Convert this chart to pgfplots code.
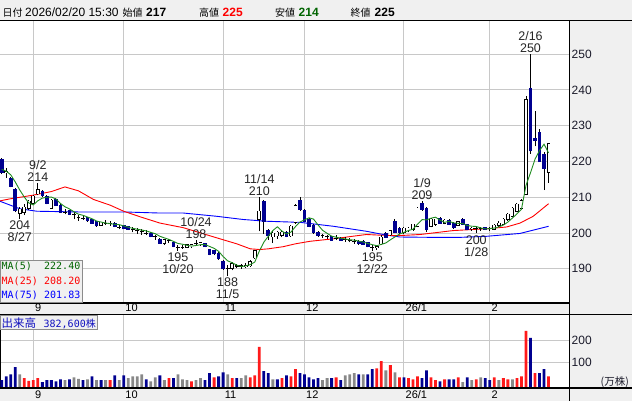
\documentclass[border=0pt]{standalone}
\usepackage{pgfplots}
\pgfplotsset{compat=1.18}
\usepackage{pgfplotstable}
\usepackage{fontspec}
\setmainfont{Liberation Sans}
\newfontfamily\jp{Noto Sans CJK JP}
\newfontfamily\mono{DejaVu Sans Mono}
\definecolor{cnavy}{HTML}{000090}
\definecolor{vred}{HTML}{FF1A1A}
\definecolor{vgray}{HTML}{888888}
\definecolor{ma5}{HTML}{1E8C1E}
\definecolor{ma5t}{HTML}{006400}
\definecolor{panel}{HTML}{F0F0F0}
\definecolor{gridc}{HTML}{C8C8C8}
\definecolor{tickc}{HTML}{1A1A2A}
\definecolor{volt}{HTML}{1010C0}
\newcommand\tickfont{\fontsize{12bp}{12bp}\selectfont}
\newcommand\datefont{\fontsize{11bp}{11bp}\selectfont}
\newcommand\annfont{\fontsize{12.5bp}{12bp}\selectfont}
\newcommand\legfont{\mono\fontsize{10bp}{10bp}\selectfont}
\newcommand\hdfont{\fontsize{12bp}{12bp}\selectfont}
\newcommand\hdjp{\jp\fontsize{10bp}{12bp}\selectfont}
\tikzset{annot/.style={font=\annfont, align=center, inner sep=0pt, text=black!85}}

% i open high low close
\pgfplotstableread{
i o h l c
-7 220.5 221.0 216.5 217.0
-6 216.8 218.2 215.5 217.2
-5 215.2 215.6 212.8 213.1
-4 212.2 212.5 205.8 206.3
-3 205.6 207.2 204.0 206.6
-2 205.8 208.0 205.0 207.2
-1 207.0 209.3 206.5 208.9
0 208.4 210.6 208.0 210.3
1 211.0 214.0 210.5 212.1
2 211.6 212.0 210.0 210.4
3 210.2 210.5 208.0 208.3
4 207.0 209.5 206.8 209.2
5 209.4 209.8 207.5 207.7
6 207.6 208.0 205.6 205.8
7 205.8 206.8 205.2 205.8
8 206.2 206.5 205.0 205.2
9 205.2 206.0 203.8 205.2
10 204.4 205.0 203.5 204.4
11 204.2 205.0 203.6 204.2
12 204.4 204.6 203.2 203.4
13 203.8 204.0 202.6 202.8
14 203.3 203.5 201.8 202.0
15 202.2 203.2 202.0 203.0
16 202.8 203.6 202.2 202.8
17 202.6 203.4 202.0 202.6
18 202.6 203.0 201.6 201.8
19 201.6 202.2 201.0 201.6
20 202.0 202.2 201.0 201.2
21 201.8 202.0 200.8 201.0
22 201.0 201.6 200.2 201.0
23 200.6 201.4 199.8 200.6
24 200.4 201.0 199.6 200.4
25 200.0 200.8 199.4 200.0
26 200.0 200.4 198.8 199.0
27 199.0 199.6 198.2 199.0
28 198.2 198.6 197.0 197.1
29 197.2 198.4 196.8 198.2
30 197.9 198.4 197.2 197.9
31 197.3 197.6 196.0 196.2
32 196.1 196.6 195.0 196.1
33 196.0 196.6 195.6 196.0
34 196.0 197.0 195.8 196.7
35 196.2 197.0 195.8 196.8
36 197.0 198.0 196.4 197.0
37 196.8 197.6 196.4 197.3
38 197.0 197.2 196.0 196.2
39 195.4 195.6 193.8 194.0
40 195.2 195.4 193.8 194.2
41 194.4 194.8 192.6 192.8
42 192.1 192.4 189.8 190.0
43 190.2 191.0 188.0 190.2
44 190.2 191.8 189.6 191.4
45 190.8 191.4 190.2 190.8
46 190.8 191.4 190.0 190.8
47 190.8 191.6 190.2 190.9
48 190.9 192.4 190.6 192.0
49 193.1 195.4 192.8 195.0
50 203.8 210.0 200.5 206.1
51 208.9 209.2 199.8 203.3
52 200.6 201.2 198.0 199.2
53 199.0 200.6 197.2 200.0
54 199.2 200.5 198.4 200.2
55 199.4 200.6 198.8 200.2
56 200.3 200.6 198.8 199.1
57 199.2 202.2 199.0 201.9
58 203.0 208.0 202.6 207.6
59 209.0 210.0 206.2 206.6
60 206.3 206.8 203.0 203.3
61 203.8 204.2 201.6 201.9
62 202.2 202.6 199.8 200.1
63 200.2 200.6 199.0 199.4
64 199.2 199.8 198.6 199.2
65 199.0 199.6 198.4 199.0
66 199.0 199.2 198.0 198.0
67 198.6 199.4 198.0 198.6
68 198.6 199.0 197.8 198.0
69 198.2 198.8 197.6 198.2
70 197.8 198.6 197.4 197.8
71 197.6 198.4 197.0 197.6
72 197.7 198.0 196.8 197.1
73 197.7 198.0 196.6 196.8
74 197.3 197.6 196.0 196.2
75 196.1 196.6 195.0 196.1
76 196.0 196.8 195.4 196.2
77 197.0 199.4 196.8 198.9
78 199.8 200.2 198.6 198.8
79 199.6 200.8 199.2 200.6
80 203.3 203.8 200.0 200.1
81 201.4 201.8 199.8 200.1
82 200.2 201.8 199.8 201.4
83 200.6 201.8 200.2 201.4
84 201.0 202.6 200.6 202.4
85 201.9 207.4 201.6 207.0
86 208.4 209.0 206.2 206.6
87 207.0 207.4 200.4 201.0
88 201.9 204.2 201.6 203.8
89 202.5 204.0 202.0 203.8
90 204.2 204.6 202.6 202.8
91 202.8 204.0 202.4 203.6
92 203.4 203.8 202.2 202.4
93 202.8 203.0 201.2 201.6
94 202.2 203.4 202.0 203.2
95 203.8 204.2 202.2 202.4
96 202.4 202.6 200.8 201.0
97 201.2 201.8 200.6 201.4
98 201.2 201.6 200.0 201.2
99 201.2 201.8 200.6 201.2
100 201.6 201.8 200.8 201.0
101 201.2 201.8 200.6 201.4
102 201.0 202.6 200.8 202.2
103 202.2 203.4 201.8 202.8
104 202.4 204.2 202.2 203.8
105 203.8 205.6 203.4 205.2
106 204.7 207.4 204.4 207.0
107 206.1 208.4 205.8 208.0
108 207.0 209.4 206.6 209.1
109 210.9 238.2 210.6 237.2
110 240.3 250.0 222.2 223.0
111 226.5 234.0 224.2 226.0
112 228.2 229.1 220.0 220.0
113 221.9 222.6 212.0 218.0
114 217.0 225.0 214.0 225.0
}\ohlc

\pgfplotstableread{
i m
-7 217.8
-6 217.3
-5 216.3
-4 214.3
-3 212.04
-2 210.08
-1 208.42
0 207.86
1 209.02
2 209.78
3 210.0
4 210.06
5 209.54
6 208.28
7 207.36
8 206.74
9 205.94
10 205.28
11 204.96
12 204.48
13 204.0
14 203.36
15 203.08
16 202.8
17 202.64
18 202.44
19 202.36
20 202.0
21 201.64
22 201.32
23 201.08
24 200.84
25 200.6
26 200.2
27 199.8
28 199.1
29 198.66
30 198.24
31 197.68
32 197.1
33 196.88
34 196.58
35 196.36
36 196.52
37 196.76
38 196.8
39 196.26
40 195.74
41 194.9
42 193.44
43 192.24
44 191.72
45 191.04
46 190.64
47 190.82
48 191.18
49 191.9
50 194.96
51 197.46
52 199.12
53 200.72
54 201.76
55 200.58
56 199.74
57 200.28
58 201.8
59 203.08
60 203.7
61 204.26
62 203.9
63 202.26
64 200.78
65 199.92
66 199.14
67 198.84
68 198.56
69 198.36
70 198.12
71 198.04
72 197.74
73 197.5
74 197.1
75 196.76
76 196.48
77 196.84
78 197.24
79 198.12
80 198.92
81 199.7
82 200.2
83 200.72
84 201.08
85 202.46
86 203.76
87 203.68
88 204.16
89 204.44
90 203.6
91 203.0
92 203.28
93 202.84
94 202.72
95 202.64
96 202.12
97 201.92
98 201.84
99 201.44
100 201.16
101 201.24
102 201.4
103 201.72
104 202.24
105 203.08
106 204.2
107 205.36
108 206.62
109 213.3
110 216.86
111 220.66
112 223.06
113 224.84
114 222.4
}\mafive

\pgfplotstableread{
i m
-7.4 209.0
-5 209.6
0 210.6
4 211.6
7 212.9
10 211.8
13.3 209.4
17 207.8
20 206.1
24 204.4
28 202.8
33.2 201.5
40.5 198.7
45 197.0
48 195.6
50.1 195.4
52 195.6
55.3 196.2
58 197.0
61.2 197.7
66.4 198.4
70 199.0
73.7 199.6
77 199.4
81 199.3
85.6 199.6
92.9 200.7
100.3 201.2
104.7 201.7
107.7 202.8
110.6 204.7
114 208.2
}\matwentyfive

\pgfplotstableread{
i m
-7.4 208.9
-3 206.8
0.8 206.1
10 205.9
20 205.9
28 205.6
33.2 205.6
40.5 204.7
46.4 203.8
51.6 203.3
59 203.0
66.4 201.9
73.7 200.5
77.4 199.6
81.1 198.9
88.5 198.8
94.4 198.8
100.3 199.1
107.7 199.9
114 201.9
}\maseventyfive

% volume (10,000 shares); colour code: 0 gray, 1 red, 2 navy
\pgfplotstableread{
i v c
-7 20 2
-6 38 2
-5 47 2
-4 79 2
-3 47 0
-2 29 1
-1 17 1
0 20 1
1 29 1
2 11 2
3 20 2
4 20 2
5 15 2
6 24 2
7 20 0
8 24 2
9 33 0
10 26 0
11 20 2
12 24 0
13 38 2
14 20 0
15 20 2
16 20 0
17 20 1
18 42 2
19 20 0
20 42 2
21 29 0
22 38 0
23 38 0
24 47 0
25 24 2
26 15 0
27 33 0
28 42 2
29 20 0
30 29 1
31 29 2
32 47 0
33 24 0
34 20 0
35 15 1
36 20 0
37 29 0
38 20 2
39 52 2
40 33 1
41 38 2
42 56 2
43 47 0
44 29 1
45 29 2
46 29 0
47 42 0
48 33 1
49 42 1
50 170 1
51 61 2
52 52 2
53 24 0
54 24 2
55 29 1
56 42 2
57 38 1
58 70 1
59 52 2
60 47 2
61 33 2
62 24 2
63 29 2
64 20 0
65 29 0
66 29 2
67 33 1
68 20 2
69 42 0
70 47 0
71 52 0
72 47 2
73 47 0
74 47 2
75 70 2
76 74 1
77 106 1
78 65 0
79 88 1
80 56 0
81 33 1
82 33 2
83 29 1
84 24 1
85 38 1
86 29 2
87 65 2
88 33 1
89 20 1
90 15 2
91 24 1
92 24 2
93 24 2
94 33 1
95 11 0
96 33 2
97 20 0
98 24 1
99 33 0
100 29 2
101 20 2
102 33 1
103 20 0
104 29 1
105 24 1
106 24 0
107 29 1
108 38 1
109 243 1
110 211 2
111 52 1
112 52 2
113 70 2
114 38 1
}\vol

\begin{document}
\begin{tikzpicture}
\useasboundingbox (0,0) rectangle (632bp,-401bp);
\fill[white] (0,0) rectangle (632bp,-401bp);
\fill[panel] (0,0) rectangle (632bp,-20.5bp);
\fill[panel] (569bp,-20.5bp) rectangle (632bp,-401bp);
\fill[panel] (0,-302.5bp) rectangle (632bp,-314.5bp);
\fill[panel] (0,-388bp) rectangle (632bp,-401bp);

\begin{axis}[
  at={(0bp,-20.5bp)}, anchor=north west,
  width=569bp, height=282bp, scale only axis,
  xmin=-7.37, xmax=118.52, ymin=180.6, ymax=259.4,
  axis line style={draw=black, line width=1bp},
  major tick length=0pt,
  /pgf/number format/assume math mode=true,
  xtick={0,20,42,60,82,101},
  xticklabels={9,10,11,12,26/1,2},
  xticklabel style={anchor=base west, inner sep=0pt, xshift=1.5bp, yshift=-9bp, font=\datefont, text=black},
  ytick={190,200,210,220,230,240,250},
  yticklabel pos=right,
  yticklabel style={anchor=west, inner sep=0pt, xshift=2.5bp, font=\tickfont, text=tickc},
  grid=major, major grid style={draw=gridc, line width=1bp},
]
% MA lines
\addplot[blue, line width=0.9bp, mark=none] table[x=i,y=m] {\maseventyfive};
\addplot[red, line width=0.9bp, mark=none] table[x=i,y=m] {\matwentyfive};
% wicks (low to high)
\addplot[draw=none, mark=none, error bars/.cd, y dir=plus, y explicit, error mark=none,
  error bar style={draw=black, line width=0.9bp}]
  table[x=i, y=l, y error expr=\thisrow{h}-\thisrow{l}] {\ohlc};
% white (rising) bodies: black outline, white inside
\addplot[draw=none, mark=none, error bars/.cd, y dir=plus, y explicit, error mark=none,
  error bar style={draw=black, line width=3.7bp}]
  table[x=i, y expr=\thisrow{o}-0.14,
        y error expr={\thisrow{c}>=\thisrow{o} ? \thisrow{c}-\thisrow{o}+0.28 : 0}] {\ohlc};
\addplot[draw=none, mark=none, error bars/.cd, y dir=plus, y explicit, error mark=none,
  error bar style={draw=white, line width=2.1bp}]
  table[x=i, y=o,
        y error expr={\thisrow{c}>\thisrow{o} ? \thisrow{c}-\thisrow{o} : 0}] {\ohlc};
% navy (falling) bodies
\addplot[draw=none, mark=none, error bars/.cd, y dir=plus, y explicit, error mark=none,
  error bar style={draw=cnavy, line width=3.7bp}]
  table[x=i, y expr=\thisrow{c}-0.14,
        y error expr={\thisrow{o}>\thisrow{c} ? \thisrow{o}-\thisrow{c}+0.28 : 0}] {\ohlc};
\addplot[ma5, line width=0.9bp, mark=none] table[x=i,y=m] {\mafive};
% annotations
\node[annot, anchor=south, yshift=1.5bp] at (axis cs:110,250) {2/16\\250};
\node[annot, anchor=south, yshift=1.5bp] at (axis cs:1,214) {9/2\\214};
\node[annot, anchor=north, yshift=-2bp] at (axis cs:-3,204) {204\\8/27};
\node[annot, anchor=south, yshift=1.5bp] at (axis cs:36,198) {10/24\\198};
\node[annot, anchor=north, yshift=-2bp] at (axis cs:32,195) {195\\10/20};
\node[annot, anchor=north, yshift=-2bp] at (axis cs:43,188) {188\\11/5};
\node[annot, anchor=south, yshift=1.5bp] at (axis cs:50,210) {11/14\\210};
\node[annot, anchor=north, yshift=-2bp] at (axis cs:75,195) {195\\12/22};
\node[annot, anchor=south, yshift=1.5bp] at (axis cs:86,209) {1/9\\209};
\node[annot, anchor=north, yshift=-2bp] at (axis cs:98,200) {200\\1/28};
\end{axis}

\begin{axis}[
  at={(0bp,-314.5bp)}, anchor=north west,
  width=569bp, height=73.5bp, scale only axis,
  xmin=-7.37, xmax=118.52, ymin=0, ymax=331.5,
  axis line style={draw=black, line width=1bp},
  major tick length=0pt,
  /pgf/number format/assume math mode=true,
  xtick={0,20,42,60,82,101},
  xticklabels={9,10,11,12,26/1,2},
  xticklabel style={anchor=base west, inner sep=0pt, xshift=1.5bp, yshift=-10.5bp, font=\datefont, text=black},
  ytick={115,215}, yticklabels={100,200},
  yticklabel pos=right,
  yticklabel style={anchor=west, inner sep=0pt, xshift=2.5bp, font=\tickfont, text=tickc},
  grid=major, major grid style={draw=gridc, line width=1bp},
]
\addplot[ybar, bar width=2.8bp, bar shift=0pt, fill=vgray, draw=none]
  table[x=i, y expr={\thisrow{c}==0 ? \thisrow{v}+15 : 0}] {\vol};
\addplot[ybar, bar width=2.8bp, bar shift=0pt, fill=vred, draw=none]
  table[x=i, y expr={\thisrow{c}==1 ? \thisrow{v}+15 : 0}] {\vol};
\addplot[ybar, bar width=2.8bp, bar shift=0pt, fill=cnavy, draw=none]
  table[x=i, y expr={\thisrow{c}==2 ? \thisrow{v}+15 : 0}] {\vol};
\end{axis}

% frame lines
\draw[black, line width=1bp] (0,-20.5bp) -- (632bp,-20.5bp);
\draw[black, line width=2bp] (0,-303.3bp) -- (569bp,-303.3bp);
\draw[black, line width=1bp] (0,-314.3bp) -- (632bp,-314.3bp);
\draw[black, line width=1.5bp] (0,-388bp) -- (632bp,-388bp);
\draw[black, line width=1bp] (569bp,-20.5bp) -- (569bp,-401bp);

% MA legend
\draw[draw=black!45, fill=panel, line width=0.8bp] (0.4bp,-260bp) rectangle (82bp,-302.3bp);
\node[anchor=base west, inner sep=0pt, text=ma5t, font=\legfont] at (1.5bp,-269.5bp) {MA(5)};
\node[anchor=base east, inner sep=0pt, text=ma5t, font=\legfont] at (80.5bp,-269.5bp) {222.40};
\node[anchor=base west, inner sep=0pt, text=red, font=\legfont] at (1.5bp,-284bp) {MA(25)};
\node[anchor=base east, inner sep=0pt, text=red, font=\legfont] at (80.5bp,-284bp) {208.20};
\node[anchor=base west, inner sep=0pt, text=blue, font=\legfont] at (1.5bp,-298.5bp) {MA(75)};
\node[anchor=base east, inner sep=0pt, text=blue, font=\legfont] at (80.5bp,-298.5bp) {201.83};

% volume legend
\draw[draw=black!45, fill=panel, line width=0.8bp] (0.4bp,-315bp) rectangle (97bp,-329.5bp);
\node[anchor=base west, inner sep=0pt, text=volt, font=\jp\fontsize{11.5bp}{12bp}\selectfont] at (1.5bp,-327bp) {出来高};
\node[anchor=base east, inner sep=0pt, text=volt, font=\legfont] at (96bp,-327bp) {382,600{\jp 株}};
\node[anchor=base east, inner sep=0pt, text=tickc, font=\jp\fontsize{10.5bp}{11bp}\selectfont] at (629bp,-385bp) {(万株)};

% header
\node[anchor=base west, inner sep=0pt, font=\hdjp] at (2.5bp,-16.7bp) {日付};
\node[anchor=base west, inner sep=0pt, font=\hdfont] at (25bp,-16.7bp) {2026/02/20 15:30};
\node[anchor=base west, inner sep=0pt, font=\hdjp] at (122.5bp,-16.7bp) {始値};
\node[anchor=base west, inner sep=0pt, font=\hdfont\bfseries] at (146bp,-16.7bp) {217};
\node[anchor=base west, inner sep=0pt, font=\hdjp] at (199bp,-16.7bp) {高値};
\node[anchor=base west, inner sep=0pt, font=\hdfont\bfseries, text=red] at (222.5bp,-16.7bp) {225};
\node[anchor=base west, inner sep=0pt, font=\hdjp] at (275bp,-16.7bp) {安値};
\node[anchor=base west, inner sep=0pt, font=\hdfont\bfseries, text=ma5t] at (298.5bp,-16.7bp) {214};
\node[anchor=base west, inner sep=0pt, font=\hdjp] at (350.5bp,-16.7bp) {終値};
\node[anchor=base west, inner sep=0pt, font=\hdfont\bfseries] at (374.5bp,-16.7bp) {225};
\end{tikzpicture}
\end{document}
